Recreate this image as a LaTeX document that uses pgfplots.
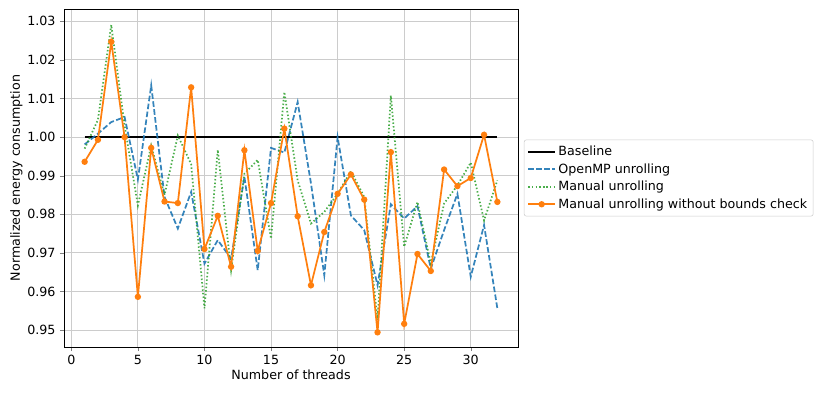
\documentclass[border=0pt]{standalone}
\usepackage{fontspec}
\setmainfont{DejaVu Sans}
\usepackage{pgfplots}
\pgfplotsset{compat=1.18}
\usepackage{pgfplotstable}

\definecolor{mplblue}{HTML}{1F77B4}
\definecolor{mplorange}{HTML}{FF7F0E}
\definecolor{mplgreen}{HTML}{2CA02C}

% threads, openmp, manual, nobounds
\pgfplotstableread{
t omp man nob
1 0.9981 0.9970 0.9936
2 1.0009 1.0045 0.9993
3 1.0039 1.0291 1.0247
4 1.0052 1.0030 1.0000
5 0.9890 0.9823 0.9586
6 1.0134 0.9978 0.9972
7 0.9845 0.9850 0.9833
8 0.9763 1.0004 0.9829
9 0.9858 0.9930 1.0129
10 0.9672 0.9556 0.9710
11 0.9733 0.9967 0.9796
12 0.9685 0.9655 0.9664
13 0.9897 0.9905 0.9966
14 0.9655 0.9941 0.9705
15 0.9972 0.9737 0.9829
16 0.9960 1.0117 1.0022
17 1.0091 0.9888 0.9795
18 0.9880 0.9776 0.9616
19 0.9642 0.9806 0.9754
20 1.0000 0.9853 0.9853
21 0.9797 0.9912 0.9903
22 0.9759 0.9845 0.9838
23 0.9616 0.9526 0.9494
24 0.9826 1.0108 0.9961
25 0.9789 0.9716 0.9516
26 0.9821 0.9832 0.9697
27 0.9659 0.9672 0.9653
28 0.9759 0.9828 0.9916
29 0.9853 0.9875 0.9873
30 0.9638 0.9934 0.9894
31 0.9772 0.9784 1.0006
32 0.9556 0.9888 0.9832
}\energy

\begin{document}
\fontsize{9.5}{11.5}\selectfont
\begin{tikzpicture}
\begin{axis}[
scale only axis,
width=340.5pt, height=253.5pt,
xmin=-0.55, xmax=33.55,
ymin=0.9456, ymax=1.0332,
xtick={0,5,10,15,20,25,30},
ytick={0.95,0.96,0.97,0.98,0.99,1.00,1.01,1.02,1.03},
yticklabel style={/pgf/number format/.cd,fixed,fixed zerofill,precision=2},
/pgf/number format/assume math mode=true,
tick align=outside, tick pos=left,
major tick length=3pt,
grid=major,
grid style={gray!40, line width=0.7pt},
axis line style={line width=0.6pt},
xlabel={Number of threads},
ylabel={Normalized energy consumption},
xlabel style={yshift=3pt},
ylabel style={yshift=-3pt},
ticklabel style={font=\fontsize{9.5}{11.5}\selectfont},
label style={font=\fontsize{9.5}{11.5}\selectfont},
legend style={at={(1.013,0.5)}, anchor=west, draw=gray!40, rounded corners=1.5pt,
  font=\fontsize{9.5}{11.5}\selectfont, row sep=0.5pt, inner sep=2.5pt},
legend cell align=left,
legend image code/.code={
  \draw[mark repeat=2, mark phase=2, #1] plot coordinates {(0cm,0cm) (0.35cm,0cm) (0.7cm,0cm)};},
]
\addplot[black, line width=1.3pt, no markers] coordinates {(1,1.0) (32,1.0)};
\addlegendentry{Baseline}
\addplot[mplblue, opacity=0.9, line width=1.3pt, no markers, dash pattern=on 4.2pt off 1.8pt] table[x=t,y=omp] {\energy};
\addlegendentry{OpenMP unrolling}
\addplot[mplgreen, opacity=0.85, line width=1.3pt, no markers, dash pattern=on 1.1pt off 1.6pt] table[x=t,y=man] {\energy};
\addlegendentry{Manual unrolling}
\addplot[mplorange, line width=1.3pt, mark=*, mark size=1.7pt, mark options={solid}] table[x=t,y=nob] {\energy};
\addlegendentry{Manual unrolling without bounds check}
\coordinate (bl) at (rel axis cs:0,0);
\coordinate (tr) at (rel axis cs:1,1);
\end{axis}
\pgfresetboundingbox
\useasboundingbox ([shift={(-48pt,-36.75pt)}]bl) rectangle ([shift={(234pt,6.75pt)}]tr);
\end{tikzpicture}
\end{document}
